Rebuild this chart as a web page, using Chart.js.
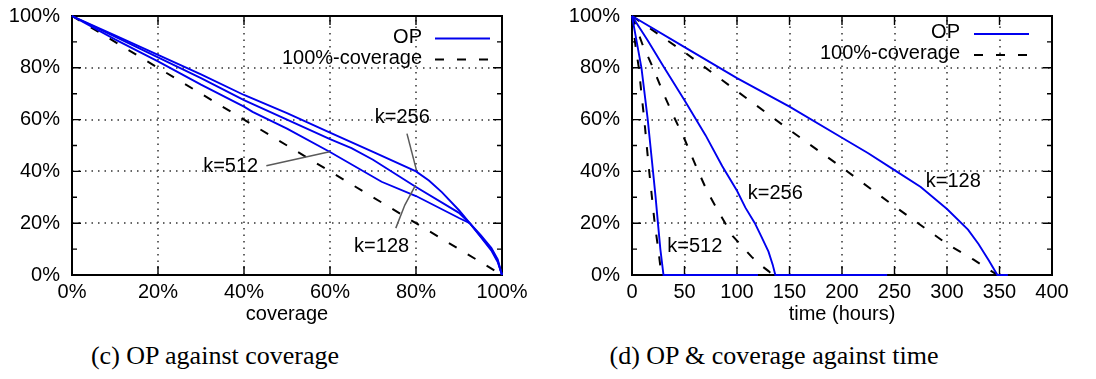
<!DOCTYPE html>
<html><head><meta charset="utf-8">
<script src="https://cdn.jsdelivr.net/npm/chart.js@4.4.1/dist/chart.umd.min.js"></script>
<style>
html,body{margin:0;padding:0;background:#fff;width:1096px;height:379px;overflow:hidden;position:relative;}
#c1{position:absolute;left:0;top:0;}
#c2{position:absolute;left:548px;top:0;}
.cap{position:absolute;top:342.7px;font-family:"Liberation Serif","Times New Roman",serif;font-size:26px;line-height:1;white-space:nowrap;transform:translateX(-50%);color:#000;}
</style></head><body>
<canvas id="c1" width="548" height="330"></canvas>
<canvas id="c2" width="548" height="330"></canvas>
<div class="cap" style="left:215px">(c) OP against coverage</div>
<div class="cap" style="left:774px">(d) OP &amp; coverage against time</div>
<script>
// ---------- tick values / labels ----------
const pctTicks = [0, 20, 40, 60, 80, 100];
const pctTickLabels = ['0%', '20%', '40%', '60%', '80%', '100%'];
const pctMinorTicks = [10, 30, 50, 70, 90];
const hourTicks = [0, 50, 100, 150, 200, 250, 300, 350, 400];
const hourTickLabels = ['0', '50', '100', '150', '200', '250', '300', '350', '400'];
const legendLabels = ['OP', '100%-coverage'];

// ---------- (c) OP against coverage ----------
const covK256X = [0, 10, 20, 30, 40, 50, 60, 70, 80, 83, 86, 90, 92.5, 95, 97.5, 99, 100];
const covK256Y = [100, 92.5, 85, 77.5, 69.5, 62.5, 55, 47.5, 40, 36.5, 32, 25, 20, 15.5, 10.5, 6, 0];
const covK128X = [0, 10, 20, 30, 40, 50, 60, 65, 70, 80, 90, 92.5, 95, 97.5, 99, 100];
const covK128Y = [100, 92, 84, 76, 67.5, 60, 52.5, 49, 44.5, 34, 24, 20, 15, 10, 5.5, 0];
const covK512X = [0, 10, 20, 30, 40, 42, 50, 60, 72, 80, 90, 92.5, 95, 97.5, 99, 100];
const covK512Y = [100, 91, 82.5, 73.5, 65, 63, 56.5, 47.5, 36, 30.5, 22, 20, 14.8, 9.5, 5, 0];
const covRefX = [0, 100];
const covRefY = [100, 0];

const covNoteText = ['k=256', 'k=512', 'k=128'];
const covNoteX = [76.8, 36.9, 72];
const covNoteY = [61, 41.8, 11.2];
const covLeaders = [
  [[77.9, 54.6], [80.1, 40.5]],
  [[45.2, 42.2], [59.9, 47.6]],
  [[75.3, 18.1], [77.4, 27], [79.9, 34.7]]
];

// ---------- (d) OP & coverage against time ----------
const timeK128X = [0, 50, 100, 150, 200, 225, 250, 275, 300, 320, 330, 340, 348, 358];
const timeK128Y = [100, 88, 76, 65, 53, 47, 40.5, 34, 25.5, 17.5, 12, 5.5, 0, 0];
const timeK256X = [0, 15, 30, 50, 70, 86, 100, 108, 117, 123, 130, 134, 136.5, 243];
const timeK256Y = [100, 90.5, 80.5, 67.5, 54, 42, 32.5, 26, 20, 15, 9, 4, 0, 0];
const timeK512X = [0, 4.5, 9, 12, 15, 17.5, 20, 22.5, 24.7, 27, 30, 120];
const timeK512Y = [100, 90, 80, 70, 60, 50, 40, 30, 20, 10, 0, 0];
const refTimeK128X = [0, 50, 100, 150, 200, 250, 300, 325, 348];
const refTimeK128Y = [100, 86, 71, 56, 41.5, 26.5, 12, 6, 0];
const refTimeK256X = [0, 10, 20, 30, 40, 50, 62, 72, 83, 96, 105, 114, 122, 130, 134];
const refTimeK256Y = [100, 89, 80, 70, 61, 52.5, 41, 32, 24, 15, 11, 7, 4, 1.5, 0];
const refTimeK512X = [0, 3.5, 6.5, 9, 11.7, 14, 16.4, 19, 21.6, 25, 28];
const refTimeK512Y = [100, 88, 80, 70, 60, 50, 40, 30, 20, 10, 0];

const timeNoteText = ['k=512', 'k=256', 'k=128'];
const timeNoteX = [59.8, 136.5, 306];
const timeNoteY = [11, 31.5, 36];

// ---------- helpers ----------
const FONT = '"Liberation Sans", Arial, Helvetica, sans-serif';
Chart.defaults.font.family = FONT;
Chart.defaults.color = '#000';
const pts = (xs, ys) => xs.map((x, i) => ({ x: x, y: ys[i] }));
const opStyle = { borderColor: '#0000ee', borderWidth: 1.9, pointRadius: 0, fill: false, tension: 0, clip: false };
const refStyle = { borderColor: '#000000', borderWidth: 2, borderDash: [9, 13], pointRadius: 0, fill: false, tension: 0, clip: false };

const framePlugin = {
  id: 'frame',
  beforeDatasetsDraw(chart, args, o) {
    const { ctx, chartArea: a } = chart;
    const xs = chart.scales.x, ys = chart.scales.y;
    const xv = xs.ticks.map(t => t.value), yv = ys.ticks.map(t => t.value);
    ctx.save();
    // dotted grid at major ticks
    ctx.strokeStyle = o.gridColor;
    ctx.lineWidth = o.gridWidth;
    ctx.lineCap = 'butt';
    ctx.setLineDash(o.gridDash);
    xv.forEach(v => {
      const p = Math.round(xs.getPixelForValue(v));
      ctx.beginPath(); ctx.moveTo(p, a.bottom); ctx.lineTo(p, a.top); ctx.stroke();
    });
    yv.forEach(v => {
      const p = Math.round(ys.getPixelForValue(v));
      ctx.beginPath(); ctx.moveTo(a.left, p); ctx.lineTo(a.right, p); ctx.stroke();
    });
    // inward tick marks
    ctx.strokeStyle = '#000';
    ctx.setLineDash([]);
    ctx.lineWidth = o.tickWidth;
    ctx.beginPath();
    const xt = (vals, len) => vals.forEach(v => {
      const p = xs.getPixelForValue(v);
      ctx.moveTo(p, a.bottom); ctx.lineTo(p, a.bottom - len);
      ctx.moveTo(p, a.top); ctx.lineTo(p, a.top + len);
    });
    const yt = (vals, len) => vals.forEach(v => {
      const p = ys.getPixelForValue(v);
      ctx.moveTo(a.left, p); ctx.lineTo(a.left + len, p);
      ctx.moveTo(a.right, p); ctx.lineTo(a.right - len, p);
    });
    xt(xv, o.major);
    yt(yv, o.major);
    yt(o.yMinor, o.minor);
    ctx.stroke();
    ctx.lineWidth = o.borderWidth;
    ctx.strokeRect(a.left, a.top, a.right - a.left, a.bottom - a.top);
    ctx.restore();
  }
};

const keyPlugin = {
  id: 'key',
  afterDatasetsDraw(chart, args, o) {
    const { ctx, chartArea: a } = chart;
    ctx.save();
    ctx.font = o.font;
    ctx.textAlign = 'right';
    ctx.textBaseline = 'middle';
    o.labels.forEach((txt, i) => {
      const ds = chart.data.datasets[o.refs[i]];
      const y = a.top + o.top + i * o.rowGap;
      ctx.fillStyle = '#000';
      ctx.fillText(txt, a.right - o.textInset, y);
      ctx.strokeStyle = ds.borderColor;
      ctx.lineWidth = ds.borderWidth;
      ctx.setLineDash(ds.borderDash || []);
      ctx.beginPath();
      ctx.moveTo(a.right - o.sampleFrom, y + o.sampleDy);
      ctx.lineTo(a.right - o.sampleTo, y + o.sampleDy);
      ctx.stroke();
    });
    ctx.restore();
  }
};

const notePlugin = {
  id: 'notes',
  afterDatasetsDraw(chart, args, o) {
    const { ctx } = chart;
    const xs = chart.scales.x, ys = chart.scales.y;
    ctx.save();
    ctx.strokeStyle = o.leaderColor;
    ctx.lineWidth = o.leaderWidth;
    ctx.setLineDash([]);
    (o.leaders || []).forEach(line => {
      ctx.beginPath();
      line.forEach((p, j) => {
        const px = xs.getPixelForValue(p[0]), py = ys.getPixelForValue(p[1]);
        if (j) ctx.lineTo(px, py); else ctx.moveTo(px, py);
      });
      ctx.stroke();
    });
    ctx.font = o.font;
    ctx.textAlign = 'center';
    ctx.textBaseline = 'middle';
    ctx.fillStyle = '#000';
    o.text.forEach((t, i) => ctx.fillText(t, xs.getPixelForValue(o.x[i]), ys.getPixelForValue(o.y[i])));
    ctx.restore();
  }
};

function makeChart(id, datasets, cfg) {
  return new Chart(document.getElementById(id), {
    type: 'line',
    data: { datasets: datasets },
    plugins: [framePlugin, keyPlugin, notePlugin],
    options: {
      responsive: false,
      animation: false,
      devicePixelRatio: 1,
      events: [],
      layout: { padding: { left: 0, right: cfg.padRight, top: 16, bottom: 0 } },
      scales: {
        x: {
          type: 'linear', min: cfg.xMin, max: cfg.xMax,
          afterBuildTicks: s => { s.ticks = cfg.xTicks.map(v => ({ value: v })); },
          afterFit: s => { s.height = 55; s.paddingLeft = 0; s.paddingRight = 0; },
          ticks: { callback: (v, i) => cfg.xLabels[i], font: { size: 20 }, color: '#000', padding: 5, maxRotation: 0, autoSkip: false },
          grid: { display: false, drawTicks: false },
          border: { display: false },
          title: { display: true, text: cfg.xTitle, font: { size: 20 }, color: '#000', padding: { top: 0, bottom: 4 } }
        },
        y: {
          type: 'linear', min: 0, max: 100,
          afterBuildTicks: s => { s.ticks = pctTicks.map(v => ({ value: v })); },
          afterFit: s => { s.width = cfg.yWidth; s.paddingTop = 0; s.paddingBottom = 0; },
          ticks: { callback: (v, i) => pctTickLabels[i], font: { size: 20 }, color: '#000', padding: 12, autoSkip: false },
          grid: { display: false, drawTicks: false },
          border: { display: false }
        }
      },
      plugins: {
        legend: { display: false },
        tooltip: { enabled: false },
        frame: { tickWidth: 1.4, borderWidth: 2, major: 9, minor: 5, yMinor: pctMinorTicks,
                 gridColor: '#333', gridWidth: 1.5, gridDash: [1.5, 5] },
        key: Object.assign({ labels: legendLabels, refs: [0, 3], font: '20px ' + FONT }, cfg.key),
        notes: Object.assign({ font: '20px ' + FONT, leaderColor: '#5a5a5a', leaderWidth: 1.5 }, cfg.notes)
      }
    }
  });
}

makeChart('c1', [
  Object.assign({ label: 'OP k=256', data: pts(covK256X, covK256Y) }, opStyle),
  Object.assign({ label: 'OP k=128', data: pts(covK128X, covK128Y) }, opStyle),
  Object.assign({ label: 'OP k=512', data: pts(covK512X, covK512Y) }, opStyle),
  Object.assign({ label: '100%-coverage', data: pts(covRefX, covRefY) }, refStyle)
], {
  xMin: 0, xMax: 100, xTicks: pctTicks, xLabels: pctTickLabels, xTitle: 'coverage',
  yWidth: 72, padRight: 46,
  key: { top: 21, rowGap: 21, textInset: 80, sampleFrom: 67, sampleTo: 12, sampleDy: 1.5 },
  notes: { text: covNoteText, x: covNoteX, y: covNoteY, leaders: covLeaders }
});

makeChart('c2', [
  Object.assign({ label: 'OP k=128', data: pts(timeK128X, timeK128Y) }, opStyle),
  Object.assign({ label: 'OP k=256', data: pts(timeK256X, timeK256Y) }, opStyle),
  Object.assign({ label: 'OP k=512', data: pts(timeK512X, timeK512Y) }, opStyle),
  Object.assign({ label: '100%-coverage k=128', data: pts(refTimeK128X, refTimeK128Y) }, refStyle),
  Object.assign({ label: '100%-coverage k=256', data: pts(refTimeK256X, refTimeK256Y) }, refStyle),
  Object.assign({ label: '100%-coverage k=512', data: pts(refTimeK512X, refTimeK512Y) }, refStyle)
], {
  xMin: 0, xMax: 400, xTicks: hourTicks, xLabels: hourTickLabels, xTitle: 'time (hours)',
  yWidth: 84, padRight: 44,
  key: { top: 16.5, rowGap: 21, textInset: 92, sampleFrom: 78, sampleTo: 23, sampleDy: 1.5 },
  notes: { text: timeNoteText, x: timeNoteX, y: timeNoteY, leaders: [] }
});
</script>
</body></html>
